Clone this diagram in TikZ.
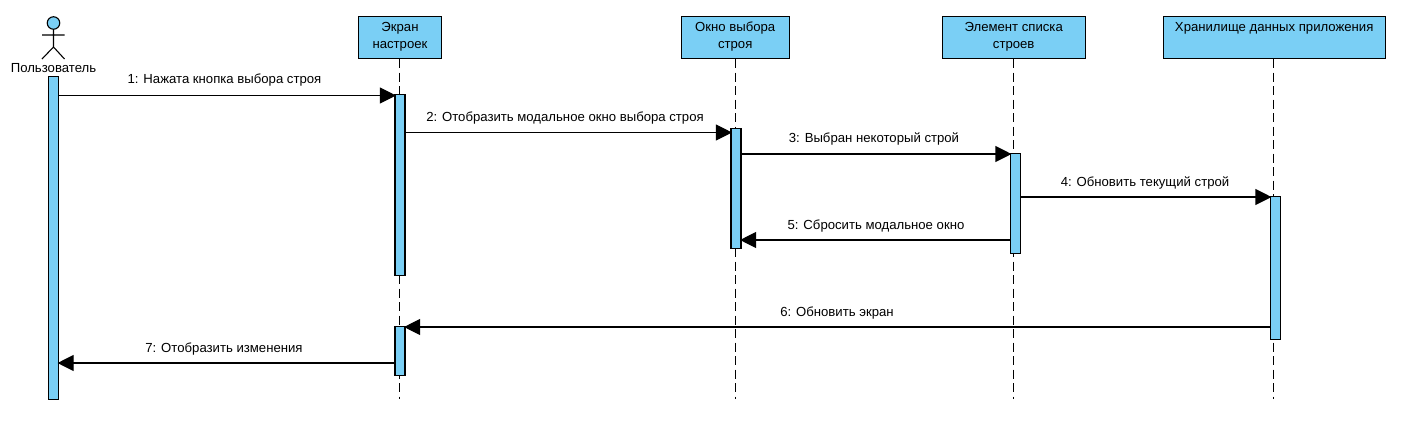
\documentclass[tikz,border=0pt]{standalone}
\usepackage{fontspec}
\setmainfont{Liberation Sans}
\usetikzlibrary{arrows.meta}
\definecolor{umlblue}{HTML}{7ACFF5}
\tikzset{headbox/.style={draw,fill=umlblue,line width=1.1pt,inner xsep=0,inner ysep=1pt,minimum height=42pt,align=center,anchor=north,text depth=4.7pt,font=\fontsize{13.15}{17}\selectfont},
         bar/.style={draw,fill=umlblue,line width=1.1pt,inner sep=0,minimum width=10pt,anchor=north},
         lifeline/.style={line width=1.1pt,dash pattern=on 9pt off 4.5pt},
         msg/.style={line width=1.1pt,-{Triangle[length=16pt,width=16pt]},shorten >=-1.5pt},
         msglabel/.style={inner sep=0,font=\fontsize{13.15}{15}\selectfont}
}

\begin{document}
\begin{tikzpicture}[x=1pt,y=-1pt]
  \useasboundingbox(0,0)rectangle(1425,437);
  % heads of the lifelines
  \node[headbox,minimum width=83pt](screen)at(400,16){Экран\\настроек};
  \node[headbox,minimum width=108pt](picker)at(735.2,16){Окно выбора\\строя};
  \node[headbox,minimum width=143pt](item)at(1013.7,16){Элемент списка\\строев};
  \node[headbox,minimum width=222pt](store)at(1274.2,16){Хранилище данных приложения\\\strut};
  \foreach\head/\x in {screen/399.5,picker/735.5,item/1013.3,store/1273.5} {
     \coordinate(\head end)at(\x,399);
     \draw[lifeline](\head.south-|\head end)--(\head end);
  }
  % actor
  \node[draw,fill=umlblue,circle,line width=1.1pt,inner sep=0,minimum size=12.5pt](head)at(53.5,23){};
  \coordinate(hip)at(53.5,47);
  \coordinate(armL)at(42,35);
  \coordinate(armR)at(64.5,35);
  \coordinate(legL)at(42,59);
  \coordinate(legR)at(64.5,59);
  \draw[line width=1.1pt](head)--(hip)(armL)--(armR)(legL)--(hip)--(legR);
  \node[msglabel](actor)at(53.5,68){Пользователь};
  % activation bars
  \node[bar,minimum height=323pt](barActor)at(53.5,75.8){};
  \node[bar,minimum height=181pt](barScreenA)at(400,93.8){};
  \node[bar,minimum height=49pt](barScreenB)at(400,325.8){};
  \node[bar,minimum height=120.5pt](barPicker)at(736,127.8){};
  \node[bar,minimum height=100.5pt](barItem)at(1015.5,152.8){};
  \node[bar,minimum height=143.5pt](barStore)at(1275.5,195.8){};
  % messages
  \foreach\from/\to/\y in {barActor.east/barScreenA.west/95.5,barScreenA.east/barPicker.west/132.5,barPicker.east/barItem.west/154,barItem.east/barStore.west/197,barItem.west/barPicker.east/240,barStore.west/barScreenB.east/327,barScreenB.west/barActor.east/363} {
     \draw[msg](\from|-0,\y)--(\to|-0,\y);
  }
  \node[msglabel](msgA)at(224.5,79.6){1: Нажата кнопка выбора строя};
  \node[msglabel](msgB)at(565,117.6){2: Отобразить модальное окно выбора строя};
  \node[msglabel](msgC)at(874,138.6){3: Выбран некоторый строй};
  \node[msglabel](msgD)at(1145,182.6){4: Обновить текущий строй};
  \node[msglabel](msgE)at(876,225.6){5: Сбросить модальное окно};
  \node[msglabel](msgF)at(837,312.6){6: Обновить экран};
  \node[msglabel](msgG)at(224,348.6){7: Отобразить изменения};
\end{tikzpicture}
\end{document}
